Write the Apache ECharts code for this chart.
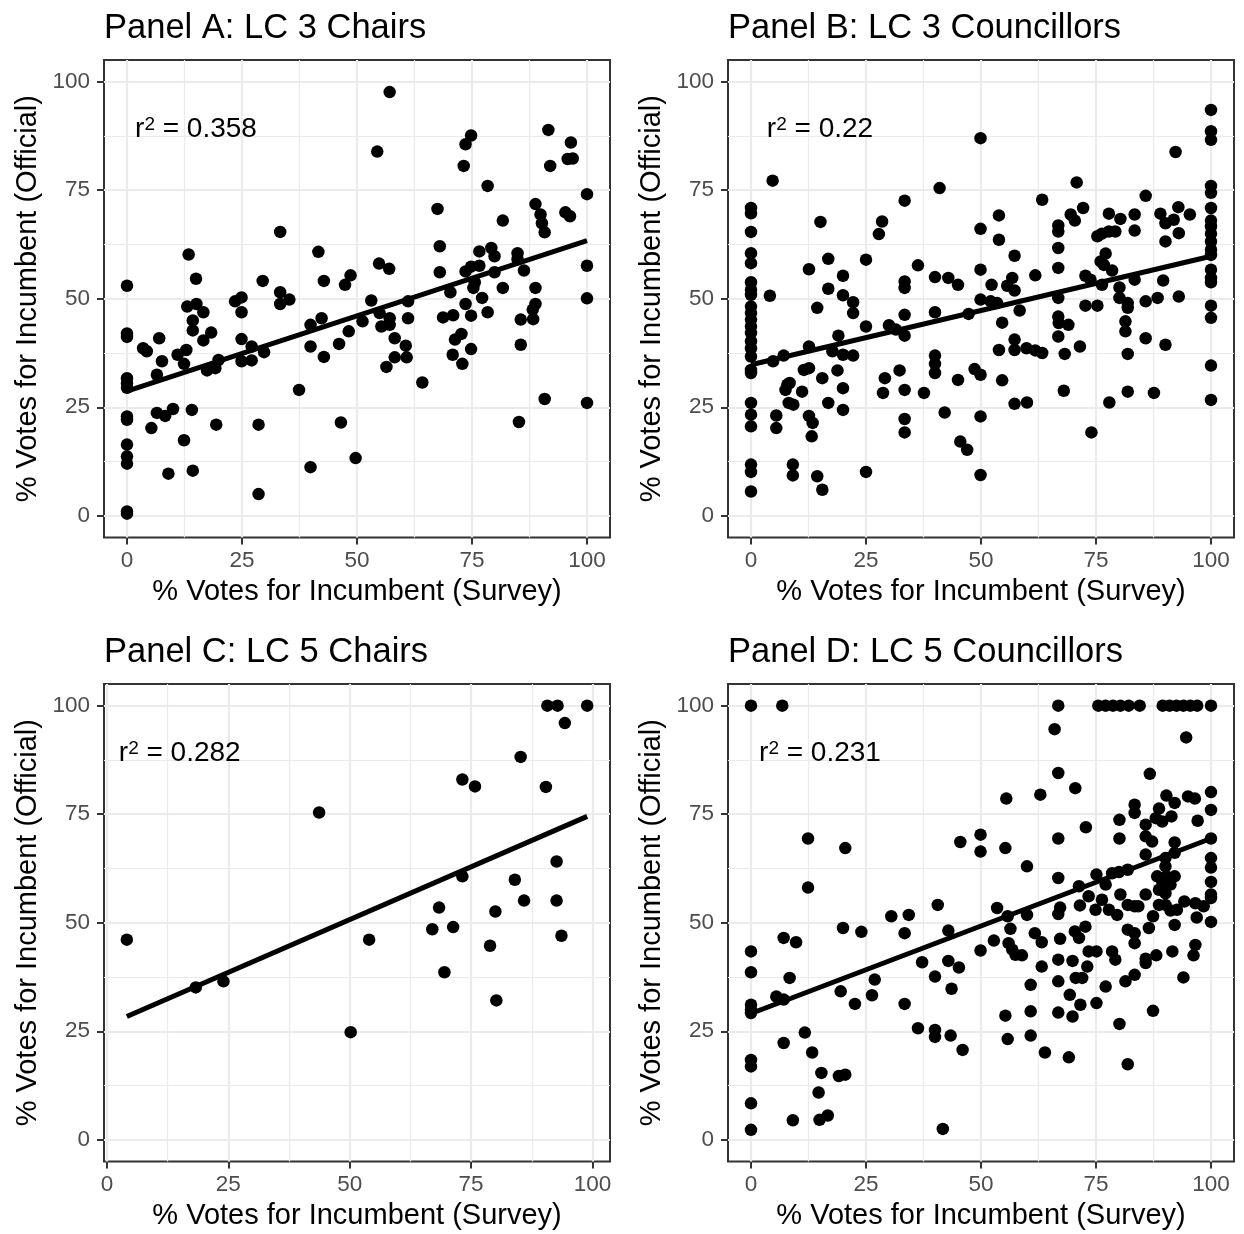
<!DOCTYPE html>
<html><head><meta charset="utf-8">
<script src="https://cdn.jsdelivr.net/npm/echarts@6/dist/echarts.min.js"></script>
<style>html,body{margin:0;padding:0;background:#fff}#c{width:1244px;height:1234px}</style>
</head><body><div id="c"></div>
<script>
const panelTitles = ['Panel A: LC 3 Chairs', 'Panel B: LC 3 Councillors', 'Panel C: LC 5 Chairs', 'Panel D: LC 5 Councillors'];
const r2Values = ['0.358', '0.22', '0.282', '0.231'];
const xLabel = '% Votes for Incumbent (Survey)';
const yLabel = '% Votes for Incumbent (Official)';
const majorTicks = [0, 25, 50, 75, 100];
const minorTicks = [12.5, 37.5, 62.5, 87.5];
const xRanges = [[-5, 105], [-5, 105], [-0.6, 103.6], [-5, 105]];
const yRange = [-5, 105];
const annotPos = [15, 89];

const panelA = [[0,53.0],[0,42.0],[0,41.2],[0,31.7],[0,30.5],[0,29.5],[0,22.9],[0,22.1],[0,16.4],[0,13.7],[0,12.0],[0,1.0],[0,0.5],
[3.5,38.6],[4.3,37.9],[7.0,40.9],[7.6,35.6],[6.5,32.5],[5.3,20.2],[6.5,23.7],[8.3,23.0],[10.0,24.6],[9.0,9.7],[12.4,17.4],[14.1,24.4],[14.3,10.4],[11.0,37.1],[12.9,38.2],[12.4,35.0],[13.4,60.2],[15.0,54.6],[13.1,48.2],[15.1,48.8],[16.6,46.9],[14.3,45.0],[14.3,42.7],[16.6,40.4],[18.3,42.2],[17.4,33.5],[19.2,34.0],[19.9,35.9],[19.4,21.0],[23.5,49.4],[24.9,50.3],[24.9,46.9],[24.9,40.7],[27.1,39.0],[24.9,35.6],[27.1,35.8],[29.8,37.7],[29.5,54.1],[33.3,65.4],[33.3,51.5],[35.3,49.8],[33.3,48.8],[28.6,21.0],[28.6,5.0],[37.4,29.0],[39.9,44.0],[39.9,39.0],[42.3,45.5],[42.8,36.6],[41.6,60.8],[42.8,54.1],[39.9,11.2],[46.5,21.5],[46.1,39.6],[48.2,42.5],[47.4,53.2],[48.6,55.4],[49.7,13.3],[51.2,44.8],
[57.1,97.6],[54.4,83.9],[53.1,49.6],[54.8,58.1],[57.0,56.9],[54.9,46.7],[57.1,45.5],[55.3,43.6],[57.1,44.0],[58.2,40.9],[56.4,34.3],[61.1,49.4],[61.1,45.5],[60.6,39.2],[58.2,36.5],[60.8,36.5],[64.2,30.7],[67.5,70.7],[68.0,62.1],[68.0,56.1],[70.3,51.5],[68.7,45.7],[70.9,46.2],[71.3,40.6],[72.7,41.9],[70.8,37.1],[72.9,35.0],[73.6,48.8],[74.8,38.4],[73.2,80.6],[73.6,85.6],[74.8,87.6],[78.4,76.0],[73.6,56.3],[74.8,57.4],[76.6,57.6],[76.6,60.9],[79.2,61.7],[79.9,59.8],[79.9,56.1],[75.6,53.8],[75.3,52.5],[77.2,50.2],[74.8,46.1],[78.4,46.9],[81.7,68.0],[81.7,52.5],[84.9,60.5],[84.9,59.1],[86.3,56.5],[85.6,45.2],[85.6,39.4],[85.2,21.6],[88.8,52.5],[88.8,48.8],[88.2,47.5],[88.3,45.3],[88.8,71.8],[89.9,69.4],[90.2,67.4],[90.8,65.3],[91.6,88.9],[92.0,80.6],[90.8,26.9],[95.3,69.9],[96.3,69.0],[96.5,86.0],[95.8,82.2],[96.9,82.3],[100,74.1],[100,57.6],[100,50.1],[100,26.0]];

const panelB = [[0,70.9],[0,69.7],[0,65.4],[0,60.5],[0,58.2],[0,53.8],[0,52.1],[0,50.9],[0,48.2],[0,46.7],[0,45.2],[0,43.6],[0,42.1],[0,40.2],[0,38.6],[0,36.7],[0,33.6],[0,32.9],[0,26.0],[0,23.3],[0,20.6],[0,11.8],[0,10.1],[0,5.6],
[4.7,77.2],[4.1,50.7],[4.8,35.6],[7.1,36.9],[5.5,23.1],[5.5,20.2],[7.9,30.2],[8.4,30.6],[7.5,29.0],[8.2,26.0],[9.2,25.6],[11.1,28.6],[9.1,11.8],[9.1,9.3],[12.6,56.8],[12.6,39.0],[11.5,33.6],[12.6,34.0],[12.6,23.0],[13.4,21.4],[13.2,18.3],[14.4,9.1],[15.5,6.0],[15.1,67.7],[14.4,47.9],[15.5,31.7],[16.8,59.2],[16.8,52.3],[16.8,26.0],[17.7,37.9],[19.0,41.5],[18.8,33.5],[20.0,55.3],[20.0,50.8],[22.2,49.2],[22.2,46.7],[20.0,37.1],[22.2,36.9],[20.0,29.4],[20.0,24.4],[25.0,59.0],[25.0,43.6],[25.0,10.1],[28.5,67.8],[27.8,64.9],[30.0,43.9],[31.5,42.9],[29.1,31.7],[28.7,28.3],[33.4,72.6],[33.4,54.0],[33.4,52.5],[33.4,46.3],[33.4,41.5],[32.3,33.5],[33.4,29.0],[33.4,22.3],[33.4,19.2],[36.3,57.7],[37.6,28.3],[41.0,75.5],[40.0,55.0],[42.9,54.8],[45.0,53.2],[40.0,46.9],[40.0,36.9],[40.0,35.0],[40.0,32.9],[42.1,23.8],[45.0,31.3],[45.5,17.1],[47.0,15.2],[47.3,46.5],[48.6,33.8],[49.9,32.5],[49.9,87.0],[49.9,66.1],[49.9,56.7],[49.9,49.8],[49.9,22.9],[49.9,9.4],
[53.9,69.2],[53.9,63.6],[52.3,53.2],[52.1,49.4],[53.5,49.0],[54.6,44.5],[53.9,38.2],[54.6,31.2],[57.3,59.9],[56.8,54.8],[55.7,53.0],[57.3,51.9],[58.4,47.3],[57.3,40.6],[57.3,38.2],[59.9,38.6],[61.8,38.1],[63.3,37.5],[57.3,25.8],[60.0,26.1],[63.3,72.8],[61.8,55.4],[66.8,66.9],[66.8,65.5],[66.8,61.7],[66.8,57.1],[66.8,50.2],[66.8,45.9],[66.9,44.4],[69.0,44.0],[66.8,41.3],[68.2,37.3],[68.0,28.8],[69.5,69.4],[70.4,68.0],[70.8,76.8],[72.2,70.9],[71.5,39.0],[72.7,55.3],[73.8,54.4],[72.7,48.4],[75.3,48.4],[74.0,19.2],[76.3,53.2],[75.3,64.4],[76.3,65.0],[77.8,65.5],[79.2,65.5],[77.1,60.4],[76.0,58.6],[76.7,57.8],[78.5,56.5],[77.8,69.6],[80.3,68.4],[80.1,52.6],[80.1,50.2],[81.9,49.0],[81.9,47.9],[81.4,44.8],[81.4,42.5],[81.9,37.3],[77.9,26.1],[81.9,28.6],[83.4,69.4],[83.4,65.7],[83.4,54.4],[85.8,73.7],[85.8,49.4],[85.8,40.9],[87.6,28.3],[89.0,69.6],[90.1,67.4],[90.1,63.2],[91.9,68.2],[92.9,71.1],[93.0,65.1],[95.4,69.4],[92.3,83.8],[89.6,54.2],[88.4,50.2],[93.0,50.5],[90.1,39.4],
[100,93.5],[100,88.6],[100,86.6],[100,76.0],[100,74.4],[100,70.9],[100,68.0],[100,66.7],[100,65.0],[100,63.2],[100,61.3],[100,60.1],[100,56.7],[100,54.8],[100,53.8],[100,48.4],[100,45.6],[100,34.6],[100,26.7]];

const panelC = [[4.1,46.1],[18.3,35.1],[24.0,36.5],[43.7,75.4],[50.2,24.8],[54.0,46.1],[67.0,48.5],[68.4,53.5],[71.3,49.0],[69.5,38.6],[73.2,83.0],[75.8,81.4],[73.2,60.7],[78.9,44.7],[80.0,52.6],[80.2,32.1],[84.0,59.9],[85.2,88.2],[85.9,55.1],[90.4,81.3],[90.7,100],[92.8,100],[94.3,96.0],[98.9,100],[92.6,64.1],[92.6,55.1],[93.6,47.0]];

const panelD = [[0,100],[0,43.4],[0,38.6],[0,31.1],[0,30.0],[0,29.2],[0,18.4],[0,16.9],[0,8.4],[0,2.3],
[6.8,100],[5.5,33.0],[7.1,32.3],[7.1,46.5],[9.8,45.5],[8.4,37.3],[7.1,22.3],[9.1,4.5],[12.4,69.4],[12.4,58.1],[11.7,24.7],[13.3,20.1],[15.3,15.4],[14.7,10.9],[14.9,4.6],[16.7,5.6],[19.1,14.7],[20.5,15.0],[20.5,67.2],[20.0,48.8],[24.0,47.9],[19.5,34.2],[22.6,31.3],[26.9,36.9],[26.3,33.3],[30.5,51.5],[34.3,51.8],[33.4,47.6],[33.4,31.3],[36.3,25.7],[37.2,40.9],[40.0,37.6],[40.0,25.3],[40.0,23.7],[40.6,54.1],[41.7,2.5],[42.9,48.2],[42.9,41.2],[45.2,39.7],[43.6,34.8],[43.4,24.0],[46.0,20.7],[45.5,68.6],[49.9,70.3],[49.9,66.4],[49.9,43.6],
[52.8,45.9],[53.5,53.4],[55.3,67.2],[55.5,78.6],[55.8,51.5],[56.4,48.6],[56.0,45.3],[56.8,43.8],[57.5,42.6],[58.9,42.5],[55.3,28.6],[55.8,23.2],[60.0,63.0],[60.0,51.8],[60.8,35.7],[60.8,29.6],[60.8,24.0],[61.7,47.6],[63.2,45.5],[63.2,39.9],[62.9,79.5],[63.9,20.1],[66.8,100],[66.0,94.6],[66.8,84.5],[66.8,69.4],[66.8,60.3],[67.2,53.5],[66.8,52.0],[67.2,46.3],[66.8,41.5],[66.8,36.5],[66.8,29.3],[69.1,19.0],[69.3,33.4],[69.9,41.2],[70.5,81.0],[71.3,58.4],[71.5,54.0],[70.4,48.0],[71.3,46.5],[72.7,49.1],[70.6,37.3],[72.0,37.3],[71.6,31.1],[69.9,28.4],[73.1,39.9],[73.4,56.1],[72.8,72.0],[73.4,43.4],[75.1,43.4],[75.1,31.5],[75.1,61.1],[77.1,58.8],[74.9,53.0],[76.3,55.3],[77.8,53.0],[77.1,35.3],[78.5,61.4],[80.0,61.7],[80.1,73.7],[80.1,69.4],[79.6,51.8],[80.3,56.5],[78.5,43.4],[79.2,41.5],[80.1,26.7],[81.4,36.5],[83.4,38.0],[81.9,62.2],[81.9,54.1],[83.4,53.8],[84.2,53.8],[81.9,48.4],[83.4,47.6],[83.4,45.3],[81.9,17.4],[83.4,77.2],[83.4,75.3],[85.8,72.6],[85.8,69.9],[87.2,68.7],[85.8,65.7],[86.7,84.3],[85.8,56.5],[87.4,51.5],[86.5,48.8],[85.8,41.7],[85.8,40.7],[88.1,42.5],[87.4,29.7],[88.7,76.3],[88.0,74.1],[89.4,73.3],[91.4,74.5],[90.3,79.3],[92.1,77.6],[88.3,60.7],[90.3,60.7],[89.4,59.5],[91.2,58.8],[88.7,57.6],[90.1,56.8],[88.7,54.1],[90.1,54.1],[91.2,52.8],[92.1,60.7],[90.1,64.9],[90.1,63.0],[92.1,68.5],[92.1,66.1],[92.1,49.5],[91.6,43.4],[92.6,53.0],[94.0,37.4],[94.2,54.9],[96.6,54.5],[98.4,53.8],[96.9,51.2],[96.6,44.9],[96.2,42.5],[94.6,92.7],[95.0,79.1],[96.5,78.6],[97.1,73.5],
[100,80.1],[100,76.0],[100,69.4],[100,64.9],[100,62.7],[100,59.4],[100,56.5],[100,55.7],[100,50.2],[100,100],
[75.5,100],[77.1,100],[78.7,100],[80.3,100],[82.1,100],[84.5,100],[89.5,100],[91,100],[92.5,100],[94,100],[95.5,100],[97,100]];

const fitA = [[0, 28.7], [100, 63.4]];
const fitB = [[0, 34.8], [100, 59.8]];
const fitC = [[4.1, 28.4], [98.9, 74.5]];
const fitD = [[0, 29.1], [100, 69.4]];

const panels = [panelA, panelB, panelC, panelD];
const fits = [fitA, fitB, fitC, fitD];

const gridLefts = [104, 728, 104, 728];
const gridTops = [60, 60, 684, 684];
const FONT = "'Liberation Sans', Arial, Helvetica, sans-serif";

const chart = echarts.init(document.getElementById('c'), null, {renderer: 'canvas'});

const grids = [], xAxes = [], yAxes = [], series = [], titles = [];
for (let i = 0; i < 4; i++) {
  grids.push({left: gridLefts[i], top: gridTops[i], width: 506, height: 477.5, show: true,
    backgroundColor: '#fff', borderColor: '#333333', borderWidth: 2, containLabel: false});
  titles.push({text: panelTitles[i], left: gridLefts[i], top: gridTops[i] - 49, padding: 0,
    textStyle: {fontFamily: FONT, fontSize: 34.5, fontWeight: 'normal', color: '#000'}});
  const axCommon = {
    gridIndex: i, type: 'value',
    axisLine: {show: false, onZero: false},
    axisTick: {show: true, length: 7, customValues: majorTicks, lineStyle: {color: '#333333', width: 2}},
    splitLine: {show: false},
    minorSplitLine: {show: false},
    nameLocation: 'middle',
    nameTextStyle: {fontFamily: FONT, fontSize: 29, color: '#000'}
  };
  xAxes.push(Object.assign({}, axCommon, {
    min: xRanges[i][0], max: xRanges[i][1], name: xLabel, nameGap: 40,
    axisLabel: {customValues: majorTicks, margin: 12, fontFamily: FONT, fontSize: 22.5, color: '#4D4D4D'}
  }));
  yAxes.push(Object.assign({}, axCommon, {
    min: yRange[0], max: yRange[1], name: yLabel, nameGap: 61.5,
    axisLabel: {customValues: majorTicks, margin: 14, fontFamily: FONT, fontSize: 22.5, color: '#4D4D4D'}
  }));
  const gl = [];
  minorTicks.forEach(v => { gl.push({xAxis: v, lineStyle: {color: '#EBEBEB', width: 1.2, type: 'solid'}}); gl.push({yAxis: v, lineStyle: {color: '#EBEBEB', width: 1.2, type: 'solid'}}); });
  majorTicks.forEach(v => { gl.push({xAxis: v, lineStyle: {color: '#EBEBEB', width: 2.2, type: 'solid'}}); gl.push({yAxis: v, lineStyle: {color: '#EBEBEB', width: 2.2, type: 'solid'}}); });
  series.push({
    type: 'scatter', xAxisIndex: i, yAxisIndex: i, data: panels[i], symbolSize: 12.5, z: 3,
    itemStyle: {color: '#000', opacity: 1}, silent: true,
    markLine: {silent: true, symbol: ['none', 'none'], label: {show: false}, z: 1, animation: false,
      emphasis: {disabled: true}, data: gl}
  });
  series.push({
    type: 'line', xAxisIndex: i, yAxisIndex: i, data: fits[i], showSymbol: false, symbol: 'none', z: 4,
    lineStyle: {color: '#000', width: 5}, silent: true
  });
  series.push({
    type: 'scatter', xAxisIndex: i, yAxisIndex: i, data: [annotPos], symbolSize: 0, z: 5, silent: true,
    label: {show: true, position: 'inside', color: '#000', textBorderWidth: 0, opacity: 1,
      formatter: '{r|r}{s|2}{r| = ' + r2Values[i] + '}',
      rich: {
        r: {fontFamily: FONT, fontSize: 28, color: '#000', lineHeight: 28, verticalAlign: 'bottom', textBorderWidth: 0},
        s: {fontFamily: FONT, fontSize: 19, color: '#000', lineHeight: 14, verticalAlign: 'top', textBorderWidth: 0}
      }}
  });
}

chart.setOption({
  animation: false,
  backgroundColor: '#fff',
  textStyle: {fontFamily: FONT},
  title: titles,
  grid: grids,
  xAxis: xAxes,
  yAxis: yAxes,
  series: series
});
</script></body></html>
